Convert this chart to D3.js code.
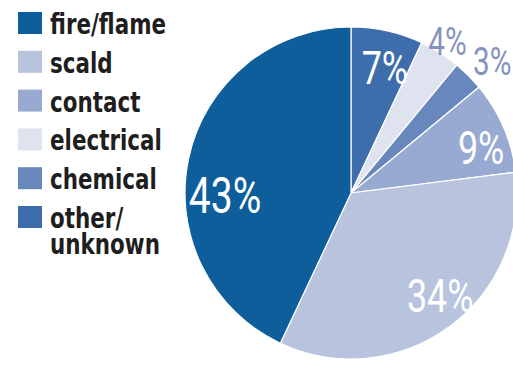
<!DOCTYPE html>
<meta charset="utf-8">
<style>
body { margin: 0; background: #fff; }
.legend text { font-family: "DejaVu Sans", Arial; font-weight: bold; font-size: 29px; fill: #1e1e1e; }
.pct { font-family: Roboto, "DejaVu Sans", Arial; font-weight: 400; text-anchor: middle; }
</style>
<body>
<script src="https://cdn.jsdelivr.net/npm/d3@7"></script>
<script>

// legend order
var categories = ["fire/flame", "scald", "contact", "electrical", "chemical", "other/unknown"];
var colors = ["#0d5e9b", "#b8c4de", "#98aad1", "#dfe3ef", "#6887bd", "#3d6dab"];

// pie order, clockwise from 12 o'clock
var pieOrder = ["other/unknown", "electrical", "chemical", "contact", "scald", "fire/flame"];
var values = [7, 4, 3, 9, 34, 43];

// label placement (radius, angle shift in degrees, size, inside?)
var labelRadius = [130, 180, 193, 138, 136, 126];
var labelShift = [2.5, 0, 2, 4, -5, -13.5];
var labelSize = [46, 38, 38, 46, 46, 50];
var labelInside = [true, false, false, true, true, true];

var width = 513, height = 368;
var cx = 351, cy = 193, radius = 166;

var color = d3.scaleOrdinal().domain(categories).range(colors);

var svg = d3.select("body").append("svg")
    .attr("width", width)
    .attr("height", height);

var pie = d3.pie().sort(null).value(function(d) { return d.value; });
var arc = d3.arc().innerRadius(0).outerRadius(radius);

var data = pieOrder.map(function(c, i) { return {name: c, value: values[i], i: i}; });
var arcs = pie(data);

var g = svg.append("g").attr("transform", "translate(" + cx + "," + cy + ")");

g.selectAll("path")
    .data(arcs)
    .enter().append("path")
    .attr("d", arc)
    .attr("fill", function(d) { return color(d.data.name); })
    .attr("stroke", "#fff")
    .attr("stroke-width", 1.2);

g.selectAll("text")
    .data(arcs)
    .enter().append("text")
    .attr("class", "pct")
    .attr("transform", function(d) {
        var i = d.data.i;
        var a = (d.startAngle + d.endAngle) / 2 + labelShift[i] * Math.PI / 180;
        var r = labelRadius[i];
        return "translate(" + (r * Math.sin(a)) + "," + (-r * Math.cos(a)) + ") scale(0.78,1)";
    })
    .attr("dy", "0.36em")
    .style("font-size", function(d) { return labelSize[d.data.i] + "px"; })
    .style("fill", function(d) { return labelInside[d.data.i] ? "#fff" : "#8593bd"; })
    .text(function(d) { return d.data.value + "%"; });

// legend
var legend = svg.append("g").attr("class", "legend");
var rowY = d3.scalePoint().domain(categories).range([23, 217]);

var item = legend.selectAll("g")
    .data(categories)
    .enter().append("g")
    .attr("transform", function(d) { return "translate(18," + rowY(d) + ")"; });

item.append("rect")
    .attr("x", 0)
    .attr("y", -11)
    .attr("width", 24)
    .attr("height", 22)
    .attr("fill", function(d) { return color(d); });

item.each(function(d) {
    var parts = d.split("/");
    var t = d3.select(this).append("text")
        .attr("transform", "translate(32,11) scale(0.74,1)");
    if (parts[1] === "unknown") {
        t.append("tspan").attr("x", 0).text(parts[0] + "/");
        t.append("tspan").attr("x", 0).attr("dy", 26).text(parts[1]);
    } else {
        t.text(d);
    }
});

</script>
</body>
